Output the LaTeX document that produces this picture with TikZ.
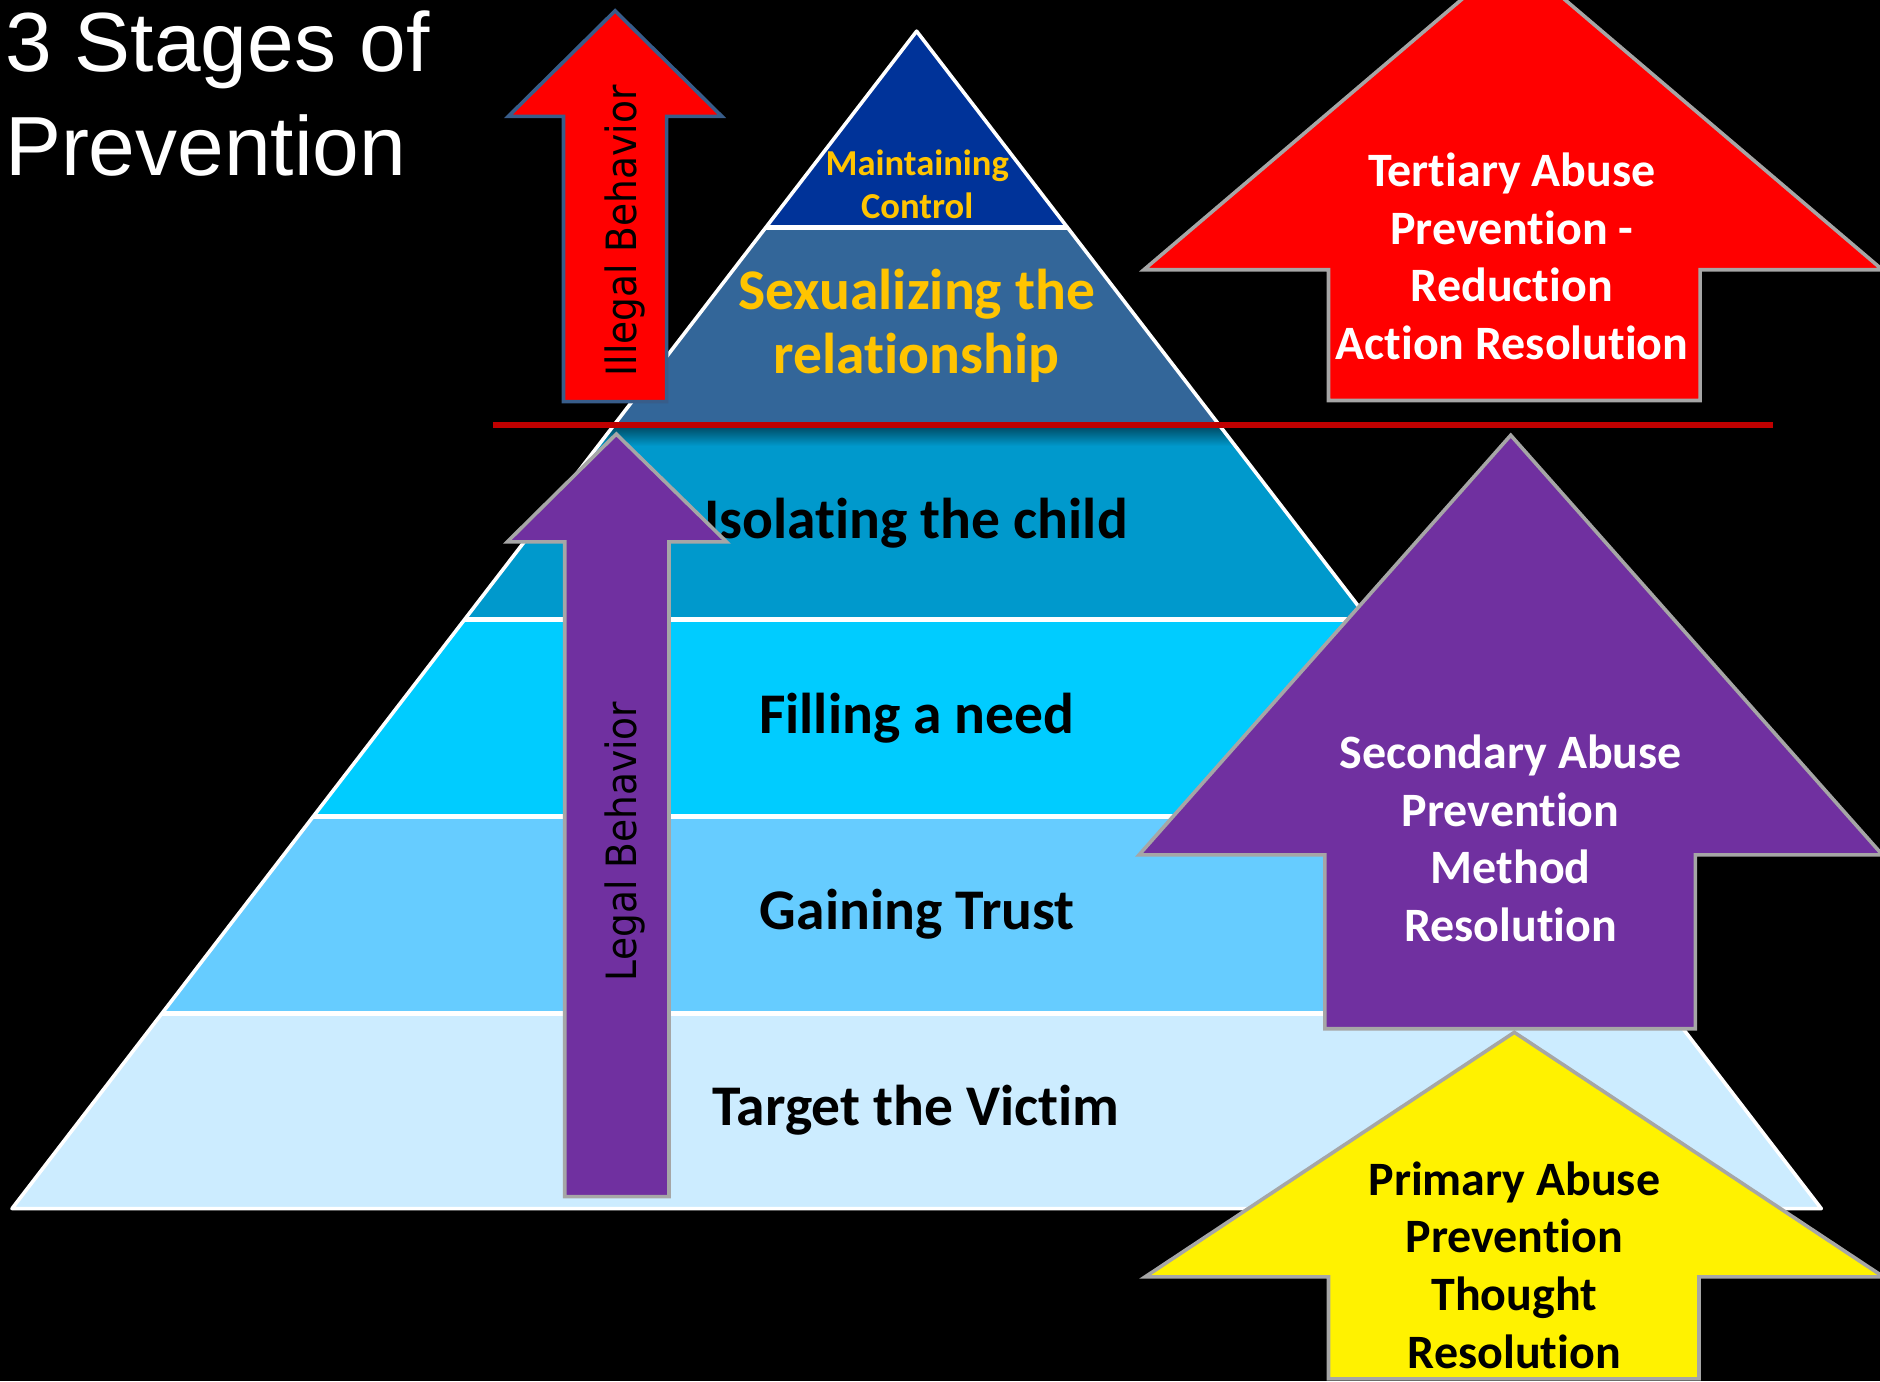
\documentclass[tikz,border=0pt]{standalone}
\usepackage{fontspec}
\setmainfont{Carlito}[Ligatures = NoCommon]
\newfontfamily\titlefont{Liberation Sans}
\newfontfamily\behaviorfont{DejaVu Sans}[FakeStretch=0.9]
\definecolor{topBand}{RGB}{0,51,153}
\definecolor{sexBand}{RGB}{51,102,153}
\definecolor{isoBand}{RGB}{0,153,204}
\definecolor{needBand}{RGB}{0,204,255}
\definecolor{trustBand}{RGB}{102,204,255}
\definecolor{victimBand}{RGB}{204,236,255}
\definecolor{goldText}{RGB}{255,196,0}
\definecolor{stagePurple}{RGB}{112,48,160}
\definecolor{stageGrey}{RGB}{166,166,166}
\definecolor{illegalEdge}{RGB}{56,93,138}
\definecolor{lineRed}{RGB}{192,0,0}
\tikzstyle{bandText}=[font = \bfseries\fontsize{48}{53}\selectfont, align = center, inner sep = 0pt, anchor = base]
\tikzstyle{stageText}=[font = \bfseries\fontsize{40}{48}\selectfont, align = center, inner sep = 0pt, anchor = base]

\begin{document}
\begin{tikzpicture}[x = 1pt, y = -1pt]
\tikzstyle{behaviorText}=[font = \behaviorfont\fontsize{34.8}{40}\selectfont, rotate = 90, inner sep = 0pt, anchor = base]
\tikzstyle{stageArrow}=[draw = stageGrey, line width = 3pt, line join = miter]
\tikzstyle{divider}=[white, line width = 4pt]
\useasboundingbox (0,0) rectangle (1568,1152);
\fill[black] (0,0) rectangle (1568,1152);
% pyramid
\coordinate (apex) at (764.5,26);
\coordinate (baseL) at (10,1008);
\coordinate (baseR) at (1519,1008);
\begin{scope}
\clip (apex) -- (baseL) -- (baseR) -- cycle;
\fill[topBand] (0,0) rectangle (1568,190);
\fill[sexBand] (0,190) rectangle (1568,354);
\fill[isoBand] (0,354) rectangle (1568,517);
\fill[needBand] (0,517) rectangle (1568,681);
\fill[trustBand] (0,681) rectangle (1568,845);
\fill[victimBand] (0,845) rectangle (1568,1012);
\shade[top color = isoBand!50!black, bottom color = isoBand] (0,356) rectangle (1568,372);
\foreach \y in {190,517,681,845}
  \draw[divider] (0,\y) -- (1568,\y);
\end{scope}
\draw[white, line width = 3pt, line join = round] (apex) -- (baseL) -- (baseR) -- cycle;
% multi-line nodes sit on their last baseline
\node[bandText, text = goldText, font = \bfseries\fontsize{30.5}{36}\selectfont] (control) at (765,182) {Maintaining\\Control};
\node[bandText, text = goldText] (sexual) at (764.5,311.5) {Sexualizing the\\relationship};
\node[bandText] (isolate) at (764,449) {Isolating the child};
\node[bandText] (need) at (764.6,611.6) {Filling a need};
\node[bandText] (trust) at (765,775.6) {Gaining Trust};
\node[bandText] (victim) at (764,938.3) {Target the Victim};
% title
\node[text = white, font = \titlefont\fontsize{70}{86}\selectfont, align = left, inner sep = 0pt, anchor = base west] (title) at (4,146) {3 Stages of\\Prevention};
% divide between legal and illegal
\coordinate (redL) at (411,354.5);
\coordinate (redR) at (1478.5,354.5);
\draw[lineRed, line width = 5pt] (redL) -- (redR);
% behavior arrows
\fill[red, draw = illegalEdge, line width = 3pt] (513,9) -- (602,97) -- (556,97) -- (556,335) -- (470,335) -- (470,97) -- (424,97) -- cycle;
\fill[stagePurple, stageArrow] (514,362) -- (606,452) -- (558,452) -- (558,998) -- (471,998) -- (471,452) -- (423,452) -- cycle;
\node[behaviorText] (illegal) at (531,192.5) {Illegal Behavior};
\node[behaviorText] (legal) at (531,701.8) {Legal Behavior};
% stage arrows
\fill[red, stageArrow] (1262,-37) -- (1570,225) -- (1418,225) -- (1418,334) -- (1108,334) -- (1108,225) -- (954,225) -- cycle;
\fill[yellow, stageArrow] (1263,861) -- (1571,1065) -- (1417,1065) -- (1417,1150) -- (1108,1150) -- (1108,1065) -- (955,1065) -- cycle;
\fill[stagePurple, stageArrow] (1260,363) -- (1570,713) -- (1414,713) -- (1414,858) -- (1105,858) -- (1105,713) -- (950,713) -- cycle;
\node[stageText, text = white] (tertiary) at (1261,299.5) {Tertiary Abuse\\Prevention -\\Reduction\\Action Resolution};
\node[stageText, text = white] (secondary) at (1260,785) {Secondary Abuse\\Prevention\\Method\\Resolution};
\node[stageText, text = black] (primary) at (1263,1141) {Primary Abuse\\Prevention\\Thought\\Resolution};
\end{tikzpicture}
\end{document}
